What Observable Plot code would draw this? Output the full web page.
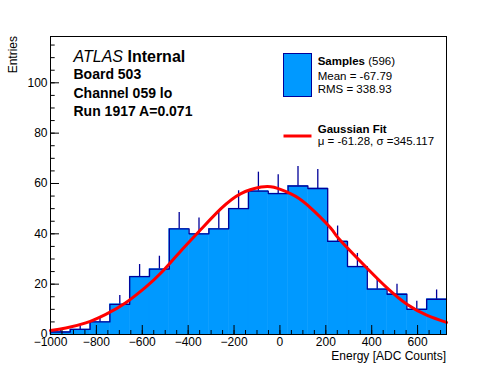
<!DOCTYPE html>
<html><head><meta charset="utf-8">
<script src="https://cdn.jsdelivr.net/npm/d3@7"></script>
<script src="https://cdn.jsdelivr.net/npm/@observablehq/plot@0.6"></script>
<style>
body{margin:0;background:#fff;}
#chart{position:relative;width:496px;height:372px;}
svg text{font-family:"Liberation Sans",Arial,Helvetica,sans-serif;}
</style></head><body><div id="chart"></div>
<script>
// ---- data ----
const binEdges = [-1000, -913.7, -827.4, -741.1, -654.8, -568.5, -482.2, -395.9, -309.6, -223.3, -137, -50.7, 35.6, 121.9, 208.2, 294.5, 380.8, 467.1, 553.4, 639.7, 726];
const counts = [1, 2, 5, 12, 23, 26, 42, 40, 42, 50, 57, 56, 59, 58, 37, 27, 18, 16, 10, 14];
const errUp = [1, 1.4, 2.2, 3.5, 4.8, 5.1, 6.5, 6.3, 6.5, 7.1, 7.5, 7.5, 7.7, 7.6, 6.1, 5.2, 4.2, 4, 3.2, 3.7];
const fitX = [-1000, -933, -846, -759, -672, -585, -520, -432, -345, -257, -170, -82, -26, 48, 119, 221, 257, 381, 468, 555, 642, 726];
const fitY = [1.6, 2.6, 4.6, 8.0, 12.6, 18.8, 24.3, 33.2, 41.7, 50.0, 56.0, 58.6, 58.5, 55.9, 51.5, 42.3, 38.0, 26.2, 18.4, 11.9, 7.6, 4.8];
const xMajorTicks = [-1000, -800, -600, -400, -200, 0, 200, 400, 600];
const xMinorTicks = [-1000,-950,-900,-850,-800,-750,-700,-650,-600,-550,-500,-450,-400,-350,-300,-250,-200,-150,-100,-50,0,50,100,150,200,250,300,350,400,450,500,550,600,650,700];
const yMajorTicks = [0, 20, 40, 60, 80, 100];
const yMinorTicks = [0,5,10,15,20,25,30,35,40,45,50,55,60,65,70,75,80,85,90,95,100,105,110,115];
const xDomain = [-1000, 726];
const yDomain = [0, 118.4];
const headerLines = ["Board 503", "Channel 059 lo", "Run 1917 A=0.071"];
const legendSamples = {name: "Samples", n: "(596)", mean: "Mean = -67.79", rms: "RMS = 338.93"};
const legendFit = {name: "Gaussian Fit", params: "\u03bc = -61.28, \u03c3 =345.117"};

// ---- derived tables ----
const fillC = "#0099ff", edgeC = "#000099";
const bins = counts.map((c, i) => ({x1: binEdges[i], x2: binEdges[i + 1], c, xc: (binEdges[i] + binEdges[i + 1]) / 2, e: errUp[i]}));
const outline = [{x: binEdges[0], y: 0}].concat(counts.map((c, i) => ({x: binEdges[i], y: c})), [{x: binEdges[binEdges.length - 1], y: counts[counts.length - 1]}]);
const fit = fitX.map((x, i) => ({x, y: fitY[i]}));
const blank = () => "";

const plot = Plot.plot({
  width: 496, height: 372,
  marginLeft: 50, marginRight: 50, marginTop: 36, marginBottom: 38,
  style: {fontFamily: '"Liberation Sans", Arial, sans-serif', fontSize: "12px", background: "white", color: "black"},
  x: {domain: xDomain, label: null},
  y: {domain: yDomain, label: null},
  marks: [
    Plot.rectY(bins, {x1: "x1", x2: "x2", y: "c", fill: fillC, stroke: fillC, strokeWidth: 0.5}),
    Plot.line(outline, {x: "x", y: "y", curve: "step-after", stroke: edgeC, strokeWidth: 1.3}),
    Plot.ruleX(bins, {x: "xc", y1: "c", y2: d => d.c + d.e, stroke: edgeC, strokeWidth: 1.3}),
    Plot.line(fit, {x: "x", y: "y", curve: "natural", stroke: "#ff0000", strokeWidth: 3}),
    Plot.axisX(xMajorTicks, {tickSize: 0, tickPadding: 3, tickFormat: d3.format("d"), fontSize: 12, label: null}),
    Plot.axisX(xMajorTicks, {tickSize: -9, tickFormat: blank, label: null}),
    Plot.axisX(xMinorTicks, {tickSize: -4, tickFormat: blank, label: null}),
    Plot.axisY(yMajorTicks, {tickSize: 0, tickPadding: 3, tickFormat: d3.format("d"), fontSize: 12, label: null}),
    Plot.axisY(yMajorTicks, {tickSize: -9, tickFormat: blank, label: null}),
    Plot.axisY(yMinorTicks, {tickSize: -4.7, tickFormat: blank, label: null}),
    Plot.frame({stroke: "black", strokeWidth: 1})
  ]
});
document.getElementById("chart").appendChild(plot);

// ---- annotations ----
const svg = d3.select(plot);
const g = svg.append("g").attr("fill", "black").attr("text-anchor", "start");
// axis titles
g.append("text").attr("x", 446).attr("y", 360).attr("text-anchor", "end").attr("font-size", 12).text("Energy [ADC Counts]");
g.append("text").attr("transform", "translate(17,36) rotate(-90)").attr("text-anchor", "end").attr("font-size", 12).text("Entries");
// ATLAS header
const t0 = g.append("text").attr("x", 73.5).attr("y", 61.7).attr("font-size", 16);
t0.append("tspan").attr("font-style", "italic").text("ATLAS");
t0.append("tspan").attr("font-weight", "bold").text(" Internal");
headerLines.forEach((s, i) => g.append("text").attr("x", 73.5).attr("y", 79.3 + i * 18.3).attr("font-size", 14).attr("font-weight", "bold").text(s));
// legend
g.append("rect").attr("x", 283.5).attr("y", 53.5).attr("width", 28).attr("height", 43).attr("fill", fillC).attr("stroke", edgeC).attr("stroke-width", 1);
const t1 = g.append("text").attr("x", 317.7).attr("y", 65).attr("font-size", 11.5);
t1.append("tspan").attr("font-weight", "bold").text(legendSamples.name);
t1.append("tspan").text(" " + legendSamples.n);
g.append("text").attr("x", 317.7).attr("y", 80).attr("font-size", 11.5).text(legendSamples.mean);
g.append("text").attr("x", 317.7).attr("y", 93.3).attr("font-size", 11.5).text(legendSamples.rms);
g.append("line").attr("x1", 283.5).attr("x2", 311.5).attr("y1", 136).attr("y2", 136).attr("stroke", "#ff0000").attr("stroke-width", 3);
g.append("text").attr("x", 317.7).attr("y", 132.7).attr("font-size", 11.5).attr("font-weight", "bold").text(legendFit.name);
g.append("text").attr("x", 317.7).attr("y", 144.5).attr("font-size", 11.5).text(legendFit.params);
</script></body></html>
